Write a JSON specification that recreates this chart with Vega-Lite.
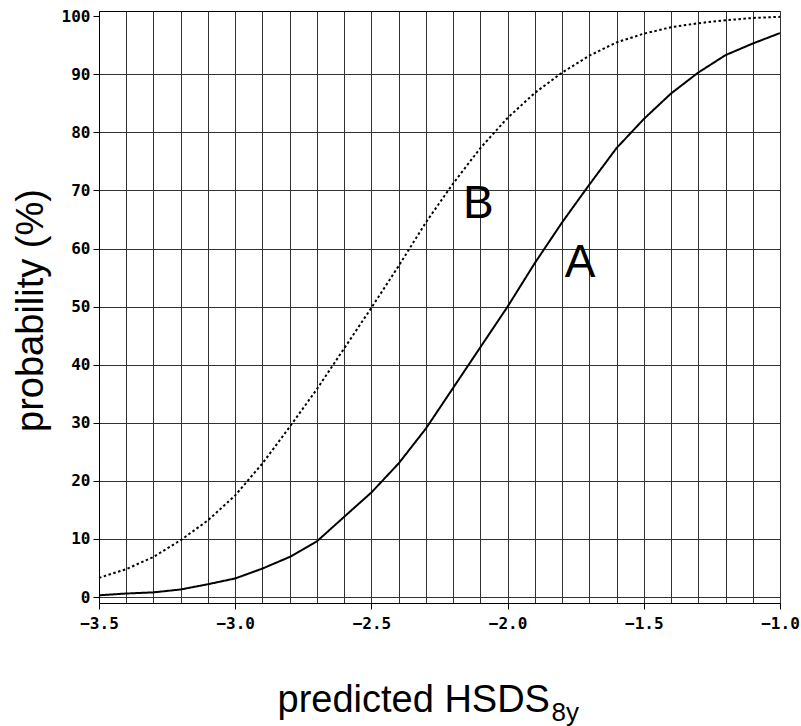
{
  "$schema": "https://vega.github.io/schema/vega-lite/v6.json",
  "autosize": {"type": "none"},
  "padding": {"left": 99, "top": 11, "right": 21, "bottom": 123},
  "width": 681,
  "height": 592,
  "background": "white",
  "config": {
    "view": {"stroke": "#000", "strokeWidth": 1},
    "axis": {
      "labelFont": "DejaVu Sans Mono",
      "labelFontWeight": "bold",
      "labelFontSize": 16,
      "labelColor": "#000",
      "titleFont": "Liberation Sans",
      "titleFontWeight": "normal",
      "titleColor": "#000",
      "domainColor": "#000",
      "tickColor": "#000",
      "gridColor": "#333",
      "gridOpacity": 1,
      "gridWidth": 1
    }
  },
  "layer": [
    {
      "data": {
        "values": [
          {"x": -3.5, "p": 0.3, "curve": "A"},
          {"x": -3.4, "p": 0.6, "curve": "A"},
          {"x": -3.3, "p": 0.8, "curve": "A"},
          {"x": -3.2, "p": 1.3, "curve": "A"},
          {"x": -3.1, "p": 2.2, "curve": "A"},
          {"x": -3.0, "p": 3.2, "curve": "A"},
          {"x": -2.9, "p": 4.9, "curve": "A"},
          {"x": -2.8, "p": 6.9, "curve": "A"},
          {"x": -2.7, "p": 9.6, "curve": "A"},
          {"x": -2.6, "p": 13.8, "curve": "A"},
          {"x": -2.5, "p": 18.0, "curve": "A"},
          {"x": -2.4, "p": 23.0, "curve": "A"},
          {"x": -2.3, "p": 29.0, "curve": "A"},
          {"x": -2.2, "p": 36.0, "curve": "A"},
          {"x": -2.1, "p": 43.0, "curve": "A"},
          {"x": -2.0, "p": 50.0, "curve": "A"},
          {"x": -1.9, "p": 57.5, "curve": "A"},
          {"x": -1.8, "p": 64.5, "curve": "A"},
          {"x": -1.7, "p": 71.0, "curve": "A"},
          {"x": -1.6, "p": 77.3, "curve": "A"},
          {"x": -1.5, "p": 82.3, "curve": "A"},
          {"x": -1.4, "p": 86.7, "curve": "A"},
          {"x": -1.3, "p": 90.3, "curve": "A"},
          {"x": -1.2, "p": 93.3, "curve": "A"},
          {"x": -1.1, "p": 95.3, "curve": "A"},
          {"x": -1.0, "p": 97.1, "curve": "A"},
          {"x": -3.5, "p": 3.3, "curve": "B"},
          {"x": -3.4, "p": 4.8, "curve": "B"},
          {"x": -3.3, "p": 6.9, "curve": "B"},
          {"x": -3.2, "p": 9.8, "curve": "B"},
          {"x": -3.1, "p": 13.2, "curve": "B"},
          {"x": -3.0, "p": 17.5, "curve": "B"},
          {"x": -2.9, "p": 23.0, "curve": "B"},
          {"x": -2.8, "p": 29.3, "curve": "B"},
          {"x": -2.7, "p": 35.8, "curve": "B"},
          {"x": -2.6, "p": 42.8, "curve": "B"},
          {"x": -2.5, "p": 49.8, "curve": "B"},
          {"x": -2.4, "p": 57.0, "curve": "B"},
          {"x": -2.3, "p": 64.5, "curve": "B"},
          {"x": -2.2, "p": 71.2, "curve": "B"},
          {"x": -2.1, "p": 77.3, "curve": "B"},
          {"x": -2.0, "p": 82.5, "curve": "B"},
          {"x": -1.9, "p": 86.8, "curve": "B"},
          {"x": -1.8, "p": 90.3, "curve": "B"},
          {"x": -1.7, "p": 93.2, "curve": "B"},
          {"x": -1.6, "p": 95.5, "curve": "B"},
          {"x": -1.5, "p": 97.0, "curve": "B"},
          {"x": -1.4, "p": 98.1, "curve": "B"},
          {"x": -1.3, "p": 98.8, "curve": "B"},
          {"x": -1.2, "p": 99.3, "curve": "B"},
          {"x": -1.1, "p": 99.7, "curve": "B"},
          {"x": -1.0, "p": 99.9, "curve": "B"}
        ]
      },
      "mark": {"type": "line", "color": "#000", "strokeWidth": 2, "strokeCap": "butt"},
      "encoding": {
        "x": {
          "field": "x",
          "type": "quantitative",
          "scale": {"domain": [-3.5, -1.0], "nice": false, "zero": false},
          "axis": {
            "orient": "bottom",
            "values": [-3.5, -3.4, -3.3, -3.2, -3.1, -3.0, -2.9, -2.8, -2.7, -2.6, -2.5, -2.4, -2.3, -2.2, -2.1, -2.0, -1.9, -1.8, -1.7, -1.6, -1.5, -1.4, -1.3, -1.2, -1.1, -1.0],
            "grid": true,
            "labelExpr": "abs(datum.value*2 - round(datum.value*2)) < 0.001 ? format(datum.value, '.1f') : ''",
            "tickOpacity": {"condition": {"test": "abs(datum.value*2 - round(datum.value*2)) < 0.001", "value": 1}, "value": 0},
            "tickSize": 6,
            "labelPadding": 6,
            "labelFlush": false,
            "labelOverlap": false,
            "title": "predicted HSDS",
            "titleFontSize": 38,
            "titleAlign": "left",
            "titleBaseline": "alphabetic",
            "titleX": 178,
            "titleY": 108
          }
        },
        "y": {
          "field": "p",
          "type": "quantitative",
          "scale": {"domain": [-1.03, 100.9], "nice": false, "zero": false},
          "axis": {
            "values": [0, 5, 10, 15, 20, 25, 30, 35, 40, 45, 50, 55, 60, 65, 70, 75, 80, 85, 90, 95, 100],
            "grid": true,
            "gridOpacity": {"condition": {"test": "datum.value == 100", "value": 0}, "value": 1},
            "labelExpr": "datum.value % 10 == 0 ? datum.label : ''",
            "tickOpacity": {"condition": {"test": "datum.value % 10 == 0", "value": 1}, "value": 0},
            "tickSize": 6,
            "labelPadding": 3,
            "labelOverlap": false,
            "title": "probability (%)",
            "titleFontSize": 38,
            "titleAngle": 270,
            "titleAlign": "center",
            "titleBaseline": "alphabetic",
            "titleX": -57,
            "titleY": 299
          }
        },
        "strokeDash": {
          "field": "curve",
          "type": "nominal",
          "scale": {"domain": ["A", "B"], "range": [[1, 0], [2.5, 2.5]]},
          "legend": null
        },
        "strokeWidth": {
          "field": "curve",
          "type": "nominal",
          "scale": {"domain": ["A", "B"], "range": [2, 2.4]},
          "legend": null
        }
      }
    },
    {
      "data": {
        "values": [
          {"x": -2.107, "p": 65.2, "label": "B"},
          {"x": -1.734, "p": 55.1, "label": "A"}
        ]
      },
      "mark": {"type": "text", "font": "Liberation Sans", "fontSize": 46, "align": "center", "baseline": "alphabetic", "color": "#000"},
      "encoding": {
        "x": {
          "field": "x",
          "type": "quantitative",
          "axis": {
            "orient": "bottom",
            "labels": false,
            "ticks": false,
            "domain": false,
            "grid": false,
            "title": "8y",
            "titleFontSize": 26,
            "titleAlign": "left",
            "titleBaseline": "alphabetic",
            "titleX": 452,
            "titleY": 117
          }
        },
        "y": {"field": "p", "type": "quantitative"},
        "text": {"field": "label"}
      }
    }
  ],
  "resolve": {"axis": {"x": "independent"}}
}
